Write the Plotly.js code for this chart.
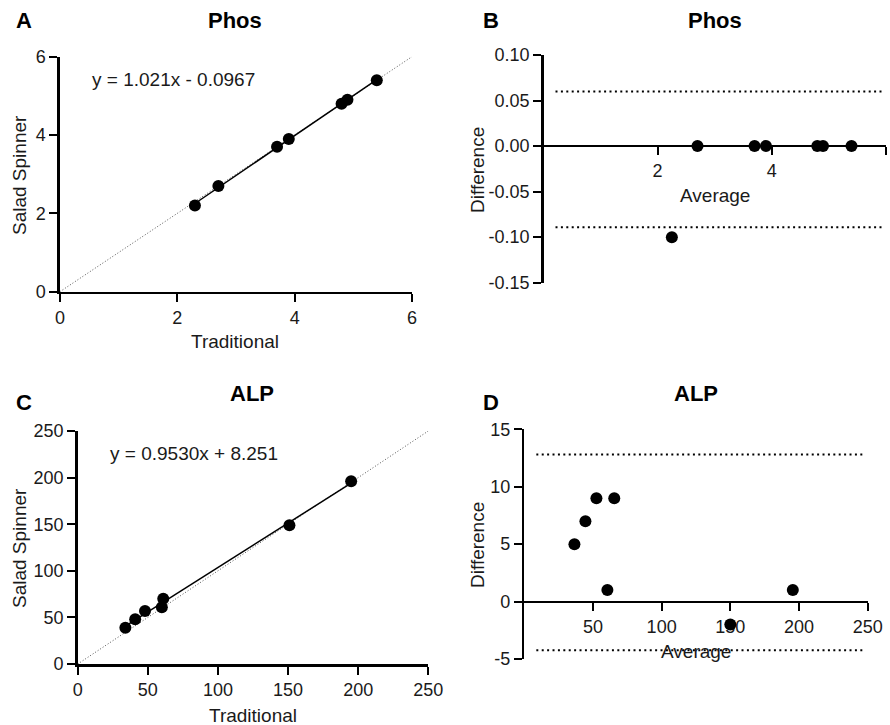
<!DOCTYPE html>
<html>
<head>
<meta charset="utf-8">
<script src="https://cdn.plot.ly/plotly-3.0.1.min.js"></script>
<style>html,body{margin:0;padding:0;background:#fff}#chart{width:890px;height:725px}</style>
</head>
<body>
<div id="chart"></div>
<script>
// ---- data ----
const phosTrad = [2.3, 2.7, 3.7, 3.9, 4.8, 4.9, 5.4];
const phosSpin = [2.2, 2.7, 3.7, 3.9, 4.8, 4.9, 5.4];
const phosFit = [1.021, -0.0967];          // slope, intercept
const phosAvg = [2.25, 2.7, 3.7, 3.9, 4.8, 4.9, 5.4];
const phosDiff = [-0.1, 0, 0, 0, 0, 0, 0];
const phosLimits = [0.06, -0.089];

const alpTrad = [34, 41, 48, 60, 61, 151, 195];
const alpSpin = [39, 48, 57, 61, 70, 149, 196];
const alpFit = [0.9530, 8.251];
const alpAvg = [36.5, 44.5, 52.5, 60.5, 65.5, 150, 195.5];
const alpDiff = [5, 7, 9, 1, 9, -2, 1];
const alpLimits = [12.8, -4.24];

const phosRange = [0, 6];
const alpRange = [0, 250];
const phosDiffRange = [-0.15, 0.10];
const alpDiffRange = [-5, 15];

const phosTicks = [0, 2, 4, 6];
const alpTicks = [0, 50, 100, 150, 200, 250];
const phosDiffTicks = [0.10, 0.05, 0.00, -0.05, -0.10, -0.15];
const phosDiffTickText = ['0.10', '0.05', '0.00', '-0.05', '-0.10', '-0.15'];
const alpDiffTicks = [15, 10, 5, 0, -5];
const alpDiffTickText = ['15', '10', '5', '0', '-5'];
const phosAvgTicks = [2, 4, 6];
const alpAvgTicks = [50, 100, 150, 200, 250];

const panelLetters = ['A', 'B', 'C', 'D'];
const panelTitles = ['Phos', 'Phos', 'ALP', 'ALP'];
const xTitles = ['Traditional', 'Average', 'Traditional', 'Average'];
const yTitles = ['Salad Spinner', 'Difference', 'Salad Spinner', 'Difference'];
const eqPhos = 'y = 1.021x - 0.0967';
const eqAlp = 'y = 0.9530x + 8.251';

// ---- helpers ----
const FONT = 'Liberation Sans, Arial, sans-serif';
const TXT = '#1a1a1a';
const marker = {color: '#000', size: 12};
function fitLine(xs, fit, xa, ya) {
  const x0 = Math.min(...xs), x1 = Math.max(...xs);
  return {x: [x0, x1], y: [fit[0] * x0 + fit[1], fit[0] * x1 + fit[1]], mode: 'lines',
    line: {color: '#000', width: 1.5}, xaxis: xa, yaxis: ya, hoverinfo: 'skip'};
}
function identity(r, xa, ya) {
  return {x: [r[0], r[1]], y: [r[0], r[1]], mode: 'lines',
    line: {color: '#555', width: 1, dash: '1px,2px'}, xaxis: xa, yaxis: ya, hoverinfo: 'skip'};
}
function limitLines(lims, r, xa, ya) {
  const span = r[1] - r[0];
  return lims.map(v => ({x: [r[0] + 0.035 * span, r[0] + 0.988 * span], y: [v, v], mode: 'lines',
    line: {color: '#000', width: 2, dash: '2px,3.4px'}, xaxis: xa, yaxis: ya, hoverinfo: 'skip'}));
}
function pts(x, y, xa, ya) {
  return {x: x, y: y, mode: 'markers', marker: marker, xaxis: xa, yaxis: ya, cliponaxis: false};
}

const data = [
  identity(phosRange, 'x', 'y'),
  fitLine(phosTrad, phosFit, 'x', 'y'),
  pts(phosTrad, phosSpin, 'x', 'y'),
  ...limitLines(phosLimits, phosRange, 'x2', 'y2'),
  pts(phosAvg, phosDiff, 'x2', 'y2'),
  identity(alpRange, 'x3', 'y3'),
  fitLine(alpTrad, alpFit, 'x3', 'y3'),
  pts(alpTrad, alpSpin, 'x3', 'y3'),
  ...limitLines(alpLimits, alpRange, 'x4', 'y4'),
  pts(alpAvg, alpDiff, 'x4', 'y4')
];

const axBase = {
  showline: true, linecolor: '#000', linewidth: 2.5, ticks: 'outside', ticklen: 8, tickwidth: 2,
  tickcolor: '#000', showgrid: false, zeroline: false, tickfont: {size: 18, color: TXT, family: FONT},
  fixedrange: true
};
function ax(extra) { return Object.assign({}, axBase, extra); }

const yDomB = [0.6101, 0.9241];
const yDomD = [0.0910, 0.4079];
const posB = yDomB[0] + (0 - phosDiffRange[0]) / (phosDiffRange[1] - phosDiffRange[0]) * (yDomB[1] - yDomB[0]);
const posD = yDomD[0] + (0 - alpDiffRange[0]) / (alpDiffRange[1] - alpDiffRange[0]) * (yDomD[1] - yDomD[0]);

// pixel positions of text (x, y) in the 890x725 figure
const letterPos = [[23.5, 20], [490.5, 20], [23.5, 402], [491, 402]];
const titlePos = [[235, 20], [715, 20], [252, 393], [696, 393]];
const xTitlePos = [[235, 342], [715, 195], [253, 715], [696, 651]];
const yTitlePos = [[19, 175], [477, 170], [19, 548], [477, 545]];

function pa(text, p, size, extra) {
  return Object.assign({text: text, x: p[0] / 890, y: 1 - p[1] / 725, xref: 'paper', yref: 'paper',
    xanchor: 'center', yanchor: 'middle', showarrow: false, font: {size: size, color: TXT, family: FONT}}, extra || {});
}

const annotations = [];
for (let i = 0; i < 4; i++) {
  annotations.push(pa('<b>' + panelLetters[i] + '</b>', letterPos[i], 22, {font: {size: 22, color: '#000', family: FONT}}));
  annotations.push(pa('<b>' + panelTitles[i] + '</b>', titlePos[i], 22, {font: {size: 22, color: '#000', family: FONT}}));
  annotations.push(pa(xTitles[i], xTitlePos[i], 19));
  annotations.push(pa(yTitles[i], yTitlePos[i], 19, {textangle: -90}));
}
annotations.push({text: eqPhos, x: 0.51, y: 5.43, xref: 'x', yref: 'y', xanchor: 'left', yanchor: 'middle', showarrow: false, font: {size: 19, color: TXT, family: FONT}});
annotations.push({text: eqAlp, x: 21.8, y: 226, xref: 'x3', yref: 'y3', xanchor: 'left', yanchor: 'middle', showarrow: false, font: {size: 19, color: TXT, family: FONT}});

const layout = {
  width: 890, height: 725, margin: {l: 0, r: 0, t: 0, b: 0},
  paper_bgcolor: '#fff', plot_bgcolor: 'rgba(0,0,0,0)', showlegend: false,
  font: {family: FONT, color: TXT},
  xaxis: ax({domain: [0.0674, 0.4629], range: phosRange, anchor: 'y', tickvals: phosTicks}),
  yaxis: ax({domain: [0.5977, 0.9218], range: phosRange, anchor: 'x', tickvals: phosTicks}),
  xaxis2: ax({domain: [0.6107, 0.9952], range: phosRange, anchor: 'free', position: posB, tickvals: phosAvgTicks,
    linewidth: 2, layer: 'below traces'}),
  yaxis2: ax({domain: yDomB, range: phosDiffRange, anchor: 'x2', tickvals: phosDiffTicks, ticktext: phosDiffTickText}),
  xaxis3: ax({domain: [0.0873, 0.4812], range: alpRange, anchor: 'y3', tickvals: alpTicks}),
  yaxis3: ax({domain: [0.0841, 0.4055], range: alpRange, anchor: 'x3', tickvals: alpTicks}),
  xaxis4: ax({domain: [0.5891, 0.9749], range: alpRange, anchor: 'free', position: posD, tickvals: alpAvgTicks,
    layer: 'below traces'}),
  yaxis4: ax({domain: yDomD, range: alpDiffRange, anchor: 'x4', tickvals: alpDiffTicks, ticktext: alpDiffTickText}),
  annotations: annotations
};

Plotly.newPlot('chart', data, layout, {staticPlot: true, displayModeBar: false});
</script>
</body>
</html>
